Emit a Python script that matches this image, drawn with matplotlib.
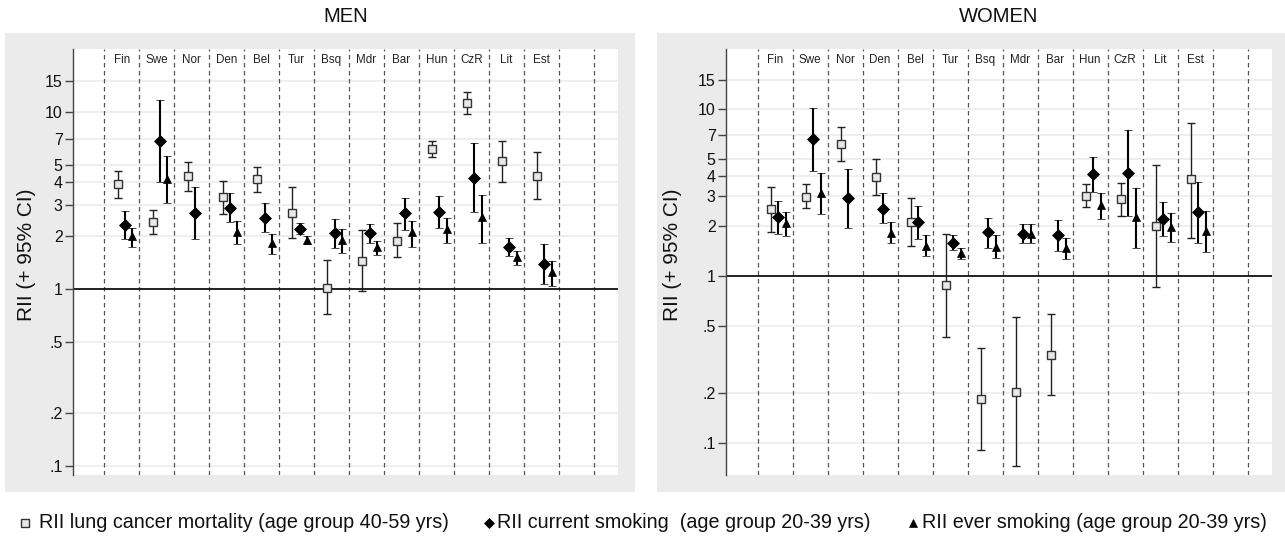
import numpy as np
import matplotlib
matplotlib.use('Agg')
import matplotlib.pyplot as plt
from matplotlib.lines import Line2D
from matplotlib.patches import Rectangle
from matplotlib.ticker import NullLocator, FixedLocator, FixedFormatter
import matplotlib.transforms as mtransforms

plt.rcParams['font.family'] = ['Liberation Sans', 'DejaVu Sans']

nan = np.nan
countries = ['Fin', 'Swe', 'Nor', 'Den', 'Bel', 'Tur', 'Bsq', 'Mdr', 'Bar', 'Hun', 'CzR', 'Lit', 'Est']

yticks = [15, 10, 7, 5, 4, 3, 2, 1, 0.5, 0.2, 0.1]
yticklabels = ['15', '10', '7', '5', '4', '3', '2', '1', '.5', '.2', '.1']

# MEN
men_lung = [3.90, 2.39, 4.35, 3.30, 4.17, 2.70, 1.01, 1.44, 1.87, 6.18, 11.3, 5.27, 4.35]
men_lung_lo = [3.28, 2.05, 3.58, 2.64, 3.52, 1.93, 0.72, 0.98, 1.51, 5.55, 9.74, 4.01, 3.21]
men_lung_hi = [4.64, 2.78, 5.22, 4.07, 4.91, 3.75, 1.46, 2.15, 2.35, 6.88, 12.97, 6.88, 5.94]
men_cur = [2.30, 6.88, 2.70, 2.86, 2.53, 2.19, 2.06, 2.08, 2.68, 2.73, 4.25, 1.73, 1.38]
men_cur_lo = [1.92, 4.02, 1.92, 2.38, 2.11, 2.04, 1.70, 1.81, 2.15, 2.20, 2.72, 1.54, 1.07]
men_cur_hi = [2.77, 11.7, 3.78, 3.47, 3.07, 2.35, 2.48, 2.33, 3.28, 3.35, 6.65, 1.93, 1.79]
men_ever = [1.99, 4.17, nan, 2.11, 1.81, 1.89, 1.89, 1.72, 2.09, 2.17, 2.54, 1.52, 1.24]
men_ever_lo = [1.73, 3.06, nan, 1.80, 1.58, 1.79, 1.59, 1.56, 1.73, 1.81, 1.81, 1.37, 1.04]
men_ever_hi = [2.22, 5.66, nan, 2.42, 2.05, 2.00, 2.19, 1.87, 2.42, 2.52, 3.41, 1.65, 1.44]

# WOMEN
wom_lung = [2.51, 2.98, 6.17, 3.93, 2.11, 0.88, 0.183, 0.203, 0.336, 3.03, 2.88, 1.99, 3.79]
wom_lung_lo = [1.83, 2.55, 4.88, 3.05, 1.51, 0.433, 0.091, 0.073, 0.194, 2.58, 2.30, 0.856, 1.70]
wom_lung_hi = [3.40, 3.54, 7.83, 5.04, 2.92, 1.78, 0.369, 0.566, 0.59, 3.54, 3.59, 4.62, 8.28]
wom_cur = [2.27, 6.64, 2.92, 2.54, 2.11, 1.59, 1.83, 1.80, 1.76, 4.08, 4.16, 2.21, 2.42]
wom_cur_lo = [1.80, 4.29, 1.93, 2.07, 1.68, 1.43, 1.48, 1.57, 1.42, 3.20, 2.30, 1.74, 1.59]
wom_cur_hi = [2.81, 10.2, 4.39, 3.13, 2.62, 1.76, 2.23, 2.05, 2.16, 5.18, 7.49, 2.76, 3.65]
wom_ever = [2.07, 3.15, nan, 1.82, 1.52, 1.37, 1.50, 1.80, 1.47, 2.66, 2.25, 1.97, 1.87]
wom_ever_lo = [1.74, 2.37, nan, 1.57, 1.32, 1.26, 1.28, 1.57, 1.26, 2.19, 1.47, 1.61, 1.40]
wom_ever_hi = [2.41, 4.12, nan, 2.10, 1.76, 1.47, 1.76, 2.05, 1.70, 3.13, 3.38, 2.39, 2.46]

legend_labels = ['RII lung cancer mortality (age group 40-59 yrs)',
                 'RII current smoking  (age group 20-39 yrs)',
                 'RII ever smoking (age group 20-39 yrs)']

W, H = 1285, 539
fig = plt.figure(figsize=(W / 100, H / 100), dpi=100)


def fx(px):
    return px / W


def fy(py):
    return 1 - py / H


# grey panel backgrounds
for x0, x1 in [(5, 635), (657, 1285)]:
    fig.add_artist(Rectangle((fx(x0), fy(492)), (x1 - x0) / W, (492 - 33) / H,
                             transform=fig.transFigure, facecolor='#ebebeb',
                             edgecolor='none', zorder=-5))

SQ_STYLE = dict(fmt='s', ms=5.5, mfc='#e8e8e8', mec='#333333', mew=1.0,
                ecolor='#222222', elinewidth=1.0, capsize=2.8, capthick=1.0)
DM_STYLE = dict(fmt='D', ms=5.8, mfc='black', mec='black', mew=0.5,
                ecolor='black', elinewidth=1.5, capsize=2.8, capthick=1.5)
TR_STYLE = dict(fmt='^', ms=6.3, mfc='black', mec='black', mew=0.5,
                ecolor='black', elinewidth=1.5, capsize=2.8, capthick=1.5)
OFFSETS = [0.38, 0.59, 0.80]


def draw_series(ax, xpos, v, lo, hi, style):
    v = np.asarray(v, float)
    lo = np.asarray(lo, float)
    hi = np.asarray(hi, float)
    m = np.isfinite(v)
    ax.errorbar(xpos[m], v[m], yerr=[v[m] - lo[m], hi[m] - v[m]], zorder=4, **style)


def panel(left_px, right_px, ylim, title, series, ylab_x):
    ax = fig.add_axes([fx(left_px), fy(475), (right_px - left_px) / W, (475 - 49) / H])
    ax.set_facecolor('white')
    ax.set_yscale('log')
    ax.set_xlim(0.1, 15.7)
    ax.set_ylim(*ylim)
    for s in ['top', 'right', 'bottom']:
        ax.spines[s].set_visible(False)
    ax.spines['left'].set_color('#444444')
    ax.spines['left'].set_linewidth(1.0)
    ax.yaxis.set_major_locator(FixedLocator(yticks))
    ax.yaxis.set_major_formatter(FixedFormatter(yticklabels))
    ax.yaxis.set_minor_locator(NullLocator())
    ax.tick_params(axis='y', length=5.5, width=1.0, color='#444444',
                   labelsize=11.5, pad=2, labelcolor='#111111')
    ax.set_xticks([])
    for t in yticks:
        if t != 1:
            ax.axhline(t, color='#eeeeee', lw=1.3, zorder=0)
    for i in range(1, 16):
        ax.axvline(i, color='#555555', lw=0.9, ls=(0, (3.6, 2.8)), zorder=1)
    ax.axhline(1, color='#111111', lw=1.3, zorder=2)
    x = np.arange(1, len(countries) + 1)
    styles = [SQ_STYLE, DM_STYLE, TR_STYLE]
    for (v, lo, hi), off, st in zip(series, OFFSETS, styles):
        draw_series(ax, x + off, v, lo, hi, st)
    trans = mtransforms.blended_transform_factory(ax.transData, ax.transAxes)
    for i, c in enumerate(countries):
        ax.text(i + 1.5, (475 - 60) / 426, c, transform=trans, ha='center',
                va='center', fontsize=8.4, color='#222222')
    fig.text(fx((left_px + right_px) / 2), fy(17), title, ha='center', va='center',
             fontsize=14.5, color='#111111')
    fig.text(fx(ylab_x), fy(255), 'RII (+ 95% CI)', rotation=90, ha='center',
             va='center', fontsize=15, color='#111111')
    return ax


panel(73, 618, (0.089, 22.7), 'MEN',
      [(men_lung, men_lung_lo, men_lung_hi),
       (men_cur, men_cur_lo, men_cur_hi),
       (men_ever, men_ever_lo, men_ever_hi)], 27)
panel(726, 1272, (0.0645, 22.9), 'WOMEN',
      [(wom_lung, wom_lung_lo, wom_lung_hi),
       (wom_cur, wom_cur_lo, wom_cur_hi),
       (wom_ever, wom_ever_lo, wom_ever_hi)], 673)

# legend
leg_y = fy(523)
leg_items = [(25, 39, 's', 5.5, '#e8e8e8', '#333333'),
             (489, 497, 'D', 5.0, 'black', 'black'),
             (913, 922, '^', 6.0, 'black', 'black')]
for (mx, tx, mk, ms, fc, ec), lab in zip(leg_items, legend_labels):
    fig.add_artist(Line2D([fx(mx)], [leg_y], marker=mk, ms=ms, mfc=fc, mec=ec,
                          mew=1.0 if mk == 's' else 0.5, ls='none',
                          transform=fig.transFigure))
    fig.text(fx(tx), leg_y, lab, ha='left', va='center', fontsize=14.25, color='#111111')

fig.savefig('out.png', dpi=100, facecolor='white')
